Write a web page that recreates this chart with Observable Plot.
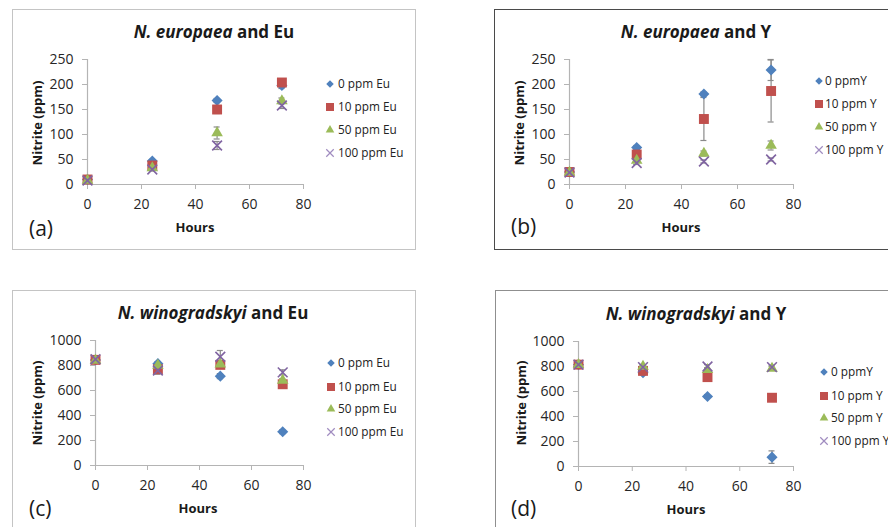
<!DOCTYPE html>
<html><head><meta charset="utf-8">
<script src="https://cdn.jsdelivr.net/npm/d3@7"></script>
<script src="https://cdn.jsdelivr.net/npm/@observablehq/plot@0.6"></script>
<style>
body{margin:0;background:#fff;}
#root{position:relative;width:888px;height:527px;overflow:hidden;font-family:"Open Sans",sans-serif;color:#1a1a1a;background:#fff;}
.box{position:absolute;box-sizing:border-box;background:#fff;}
.abs{position:absolute;white-space:nowrap;line-height:1;}
.title{font-weight:bold;font-size:17px;transform:translate(-50%,-50%);}
.hours{font-weight:bold;font-size:13px;transform:translate(-50%,-50%);}
.ylab{font-weight:bold;font-size:13px;transform:translate(-50%,-50%) rotate(-90deg);}
.tag{font-size:21px;transform:translateY(-50%);}
.leg{font-size:11.8px;transform:translateY(-50%);color:#222;}
</style></head><body><div id="root"></div>
<script>
// ---------- data ----------
const hours = [0, 24, 48, 72];
const xTicks = [0, 20, 40, 60, 80];
const yTicksEuropaea = [0, 50, 100, 150, 200, 250];
const yTicksWinogradskyi = [0, 200, 400, 600, 800, 1000];

const legendEu = ["0 ppm Eu", "10 ppm Eu", "50 ppm Eu", "100 ppm Eu"];
const legendY = ["0 ppmY", "10 ppm Y", "50 ppm Y", "100 ppm Y"];

const titleSpecies = ["N. europaea", "N. europaea", "N. winogradskyi", "N. winogradskyi"];
const titleMetal = ["Eu", "Y", "Eu", "Y"];
const panelTags = ["(a)", "(b)", "(c)", "(d)"];

// rows: 0, 10, 50, 100 ppm ; columns: hours
const europaeaEuMeans = [[10, 47, 168, 198], [10, 38, 150, 204], [8, 33, 103, 167], [8, 30, 78, 158]];
const europaeaEuErrors = [[2, 3, 4, 6], [2, 3, 8, 5], [1, 3, 12, 6], [1, 3, 8, 6]];
const europaeaYMeans = [[25, 74, 181, 229], [25, 60, 131, 187], [24, 48, 62, 78], [24, 43, 46, 50]];
const europaeaYErrors = [[2, 4, 4, 21], [2, 5, 43, 62], [2, 4, 5, 9], [2, 3, 3, 3]];
const winogradskyiEuMeans = [[845, 815, 715, 270], [845, 770, 805, 650], [840, 800, 810, 680], [850, 760, 870, 745]];
const winogradskyiEuErrors = [[10, 15, 20, 15], [10, 20, 20, 15], [10, 15, 20, 15], [10, 30, 50, 20]];
const winogradskyiYMeans = [[815, 750, 560, 75], [815, 765, 715, 550], [815, 800, 775, 785], [815, 795, 800, 795]];
const winogradskyiYErrors = [[10, 15, 15, 50], [10, 15, 20, 15], [10, 15, 15, 15], [10, 15, 15, 15]];

// ---------- styles ----------
const seriesColors = ["#4F81BD", "#C0504D", "#9BBB59", "#8064A2"];
const seriesSymbols = ["diamond2", "square", "triangle", "times"];
const seriesR = [5, 5.6, 4.3, 4.5];
const d3Symbols = [d3.symbolDiamond2, d3.symbolSquare, d3.symbolTriangle, d3.symbolTimes];
const legendSizes = [36, 64, 32, 38];
const axisColor = "#b4b4b4";
const errColor = "#8a8a8a";

// ---------- layout ----------
const panels = [
  {means: europaeaEuMeans, errs: europaeaEuErrors, legend: legendEu, yTicks: yTicksEuropaea,
   box: {l: 12, t: 9, w: 404, h: 241, c: "#c4c4c4"}, svg: {l: 12, t: 9, w: 404, h: 241, mL: 75, mR: 113, mT: 50, mB: 66},
   title: [214, 31], hours: [195, 227], ylab: [37, 123], tag: [29, 228], legX: 330, legT: 338, legRows: [84, 107, 130, 153]},
  {means: europaeaYMeans, errs: europaeaYErrors, legend: legendY, yTicks: yTicksEuropaea,
   box: {l: 494, t: 9, w: 430, h: 241, c: "#4a4a4a"}, svg: {l: 494, t: 9, w: 394, h: 241, mL: 75, mR: 95, mT: 50, mB: 66},
   title: [696, 31], hours: [681, 227], ylab: [519, 123], tag: [511, 226], legX: 819, legT: 825, legRows: [81, 104, 127, 150]},
  {means: winogradskyiEuMeans, errs: winogradskyiEuErrors, legend: legendEu, yTicks: yTicksWinogradskyi,
   box: {l: 12, t: 290, w: 404, h: 260, c: "#c4c4c4"}, svg: {l: 12, t: 290, w: 404, h: 237, mL: 83, mR: 113, mT: 50, mB: 62},
   title: [213, 312], hours: [198, 508], ylab: [37, 403], tag: [29, 508], legX: 331, legT: 338, legRows: [363, 387, 409, 432]},
  {means: winogradskyiYMeans, errs: winogradskyiYErrors, legend: legendY, yTicks: yTicksWinogradskyi,
   box: {l: 495, t: 290, w: 430, h: 260, c: "#8f8f8f"}, svg: {l: 495, t: 290, w: 393, h: 237, mL: 83, mR: 95, mT: 51, mB: 61},
   title: [696, 313], hours: [686, 509], ylab: [521, 403], tag: [511, 508], legX: 824, legT: 831, legRows: [372, 396, 418, 441]}
];

const root = document.getElementById("root");
function addDiv(cls, x, y, html) {
  const d = document.createElement("div");
  d.className = "abs " + cls;
  d.style.left = x + "px"; d.style.top = y + "px";
  d.innerHTML = html;
  root.appendChild(d);
  return d;
}

panels.forEach((p, pi) => {
  // panel frame
  const b = document.createElement("div");
  b.className = "box";
  Object.assign(b.style, {left: p.box.l + "px", top: p.box.t + "px", width: p.box.w + "px", height: p.box.h + "px", border: "1.5px solid " + p.box.c});
  root.appendChild(b);

  const rows = p.means.flatMap((arr, si) => arr.map((v, i) => ({hour: hours[i], value: v, err: p.errs[si][i], series: si})));
  const yMax = p.yTicks[p.yTicks.length - 1];

  const dotMarks = seriesSymbols.map((sym, si) => {
    const data = rows.filter(d => d.series === si);
    return sym === "times"
      ? Plot.dot(data, {x: "hour", y: "value", symbol: sym, r: seriesR[si], stroke: seriesColors[si], strokeWidth: 1.6, fill: "none"})
      : Plot.dot(data, {x: "hour", y: "value", symbol: sym, r: seriesR[si], fill: seriesColors[si], stroke: "none"});
  });

  const svg = Plot.plot({
    width: p.svg.w, height: p.svg.h,
    marginLeft: p.svg.mL, marginRight: p.svg.mR, marginTop: p.svg.mT, marginBottom: p.svg.mB,
    x: {domain: [0, 80]},
    y: {domain: [0, yMax]},
    style: {fontFamily: "Open Sans, sans-serif", fontSize: "14px", background: "transparent", overflow: "visible", color: "#262626"},
    marks: [
      Plot.ruleY([0], {stroke: axisColor, strokeWidth: 1.2}),
      Plot.ruleX([0], {stroke: axisColor, strokeWidth: 1.2}),
      Plot.axisX(xTicks, {tickSize: 5, tickPadding: 10, stroke: axisColor, fill: "#262626", label: null, tickFormat: d3.format("d")}),
      Plot.axisY(p.yTicks, {tickSize: 5, tickPadding: 9, stroke: axisColor, fill: "#262626", label: null, tickFormat: d3.format("d")}),
      Plot.ruleX(rows, {x: "hour", y1: d => d.value - d.err, y2: d => d.value + d.err, stroke: errColor, strokeWidth: 1.2}),
      Plot.ruleY(rows, {y: d => d.value + d.err, x1: "hour", x2: "hour", insetLeft: -3, insetRight: -3, stroke: errColor, strokeWidth: 1.2}),
      Plot.ruleY(rows, {y: d => d.value - d.err, x1: "hour", x2: "hour", insetLeft: -3, insetRight: -3, stroke: errColor, strokeWidth: 1.2}),
      ...dotMarks
    ]
  });
  svg.style.position = "absolute";
  svg.style.left = p.svg.l + "px";
  svg.style.top = p.svg.t + "px";
  root.appendChild(svg);

  // texts
  addDiv("title", p.title[0], p.title[1], `<i>${titleSpecies[pi]}</i> and ${titleMetal[pi]}`);
  addDiv("hours", p.hours[0], p.hours[1], "Hours");
  addDiv("ylab", p.ylab[0], p.ylab[1], "Nitrite (ppm)");
  addDiv("tag", p.tag[0], p.tag[1], panelTags[pi]);

  // legend
  p.legend.forEach((lab, si) => {
    const s = d3.create("svg").attr("width", 14).attr("height", 14)
      .style("position", "absolute").style("left", (p.legX - 7) + "px").style("top", (p.legRows[si] - 7) + "px");
    const path = s.append("path").attr("transform", "translate(7,7)").attr("d", d3.symbol(d3Symbols[si], legendSizes[si])());
    if (si === 3) path.attr("fill", "none").attr("stroke", "#a08cc0").attr("stroke-width", 1.2);
    else path.attr("fill", seriesColors[si]);
    root.appendChild(s.node());
    addDiv("leg", p.legT, p.legRows[si], lab);
  });
});
</script></body></html>
